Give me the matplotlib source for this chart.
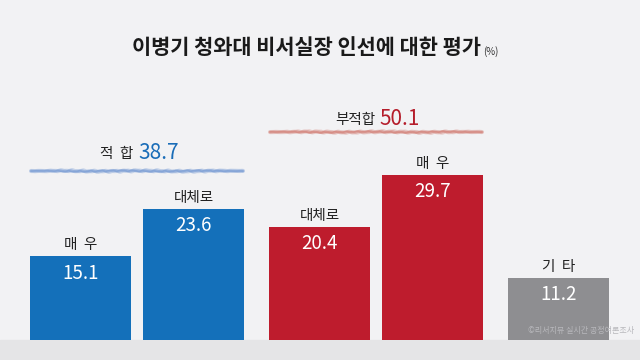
import numpy as np
import matplotlib
matplotlib.use("Agg")
import matplotlib.pyplot as plt

plt.rcParams['font.family'] = ['Noto Sans CJK KR', 'DejaVu Sans']

categories = ["매  우", "대체로", "대체로", "매  우", "기  타"]
values = [15.1, 23.6, 20.4, 29.7, 11.2]
groups = [0, 0, 1, 1, 2]
colors = ["#1470ba", "#1470ba", "#be1c2d", "#be1c2d", "#8e8e91"]
group_labels = ["적  합", "부적합"]
group_totals = [38.7, 50.1]
group_colors = ["#1a6db8", "#b51d2b"]
title = "이병기 청와대 비서실장 인선에 대한 평가"

W, H = 640, 360
fig = plt.figure(figsize=(6.4, 3.6), dpi=100)
fig.patch.set_facecolor("#f2f2f4")

bg = fig.add_axes([0, 0, 1, 1])
bg.set_xlim(0, W); bg.set_ylim(H, 0); bg.axis("off")
bg.add_patch(plt.Rectangle((0, 340), W, 20, color="#e5e5e7", zorder=0))

px_per_unit = 5.56
ax = fig.add_axes([0, 20 / H, 1, 340 / H])
ax.set_xlim(0, W)
ax.set_ylim(0, 340 / px_per_unit)
ax.axis("off")
ax.patch.set_alpha(0)

xs = [80.5 + i * 113 + groups[i] * 13 for i in range(len(values))]
ax.bar(xs, values, width=101, color=colors, zorder=2)
for x, v, c in zip(xs, values, categories):
    ax.text(x, v + 11 / px_per_unit, c, ha="center", va="center", fontsize=10.5, color="#222222")
    ax.text(x, v - 17 / px_per_unit, f"{v}", ha="center", va="center", fontsize=13.5,
            color="white", zorder=3)

# title
fig.text(481 / W, 1 - 47 / H, title, ha="right", va="center", fontsize=15,
         fontweight="bold", color="#1a1a1a")
fig.text(483 / W, 1 - 52 / H, "(%)", ha="left", va="center", fontsize=7, color="#333333")

def brush(x0, x1, y, color):
    t = np.linspace(x0, x1, 400)
    u = (t - x0) / (x1 - x0)
    taper = np.clip(np.minimum(u, 1 - u) * 6, 0.25, 1)
    for k, (lw, a) in enumerate([(3.0, 0.35), (2.0, 0.45), (1.2, 0.55)]):
        yy = y + taper * (0.35 * np.sin(t / 1.7 + k) + 0.25 * np.sin(t / 0.9 + 2 * k)
                          + 0.3 * np.sin(t / 13.0 + k))
        bg.plot(t, yy, color=color, lw=lw * 1.0, alpha=a, solid_capstyle="round")

gx = [(xs[0] + xs[1]) / 2, (xs[2] + xs[3]) / 2]
gy = [153, 119]
uy = [171, 132]
ucol = ["#7297d2", "#d27c72"]
num_off = [1, 3]
lab_off = [-4, -1]
for i in range(2):
    bg.text(gx[i] + num_off[i], gy[i], f"{group_totals[i]}", ha="left", va="center",
            fontsize=15, color=group_colors[i], fontweight="medium")
    bg.text(gx[i] + lab_off[i], gy[i] + 1, group_labels[i], ha="right", va="center",
            fontsize=10.5, color="#222222")
    brush(gx[i] - 106, gx[i] + 106, uy[i], ucol[i])

fig.text(634 / W, 1 - 330 / H, "©리서치뷰 실시간 공정여론조사", ha="right", va="center",
         fontsize=5.8, color="#b8b8bc")

fig.savefig("out.png", dpi=100, facecolor=fig.get_facecolor())
